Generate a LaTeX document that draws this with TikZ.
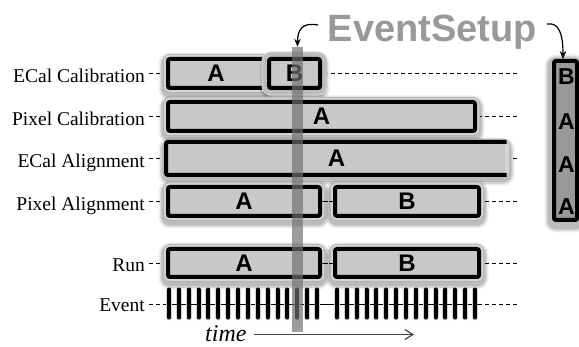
\documentclass[tikz,border=0pt]{standalone}
\usepackage{fontspec}
\setmainfont{Liberation Serif}
\newfontfamily\boxfont{Liberation Sans}
\usetikzlibrary{arrows.meta,calc}
\definecolor{boxfill}{RGB}{200,200,200}
\definecolor{halofill}{RGB}{212,212,212}
\definecolor{haloedge}{RGB}{175,175,175}
\definecolor{halobfill}{RGB}{188,188,188}
\definecolor{halobedge}{RGB}{215,215,215}
\definecolor{setupgray}{RGB}{153,153,153}
\definecolor{barcol}{RGB}{112,112,112}
\definecolor{rbfill}{RGB}{153,153,153}
\definecolor{timecol}{RGB}{68,68,68}
\begin{document}
\begin{tikzpicture}[x=1pt,y=-1pt,
  softshadow/.style={
    preaction={draw=black,draw opacity=0.07,line width=19pt,line join=round,transform canvas={yshift=-3pt}},
    preaction={draw=black,draw opacity=0.09,line width=16pt,line join=round,transform canvas={yshift=-3pt}},
    preaction={draw=black,draw opacity=0.12,line width=13pt,line join=round,transform canvas={yshift=-3pt}}},
  lab/.style={anchor=base east,inner sep=0pt,font=\fontsize{19.5}{20}\selectfont},
  tbox/.style={softshadow,
    preaction={draw=haloedge,line width=10pt,line join=round},
    preaction={draw=halofill,line width=8.5pt,line join=round},
    draw=black,line width=4pt,fill=boxfill,rounded corners=2pt,inner sep=0pt,
    font=\boxfont\bfseries\fontsize{24}{24}\selectfont},
  tboxb/.style={softshadow,
    preaction={draw=halobedge,line width=15pt,line join=round},
    preaction={draw=halobfill,line width=13pt,line join=round},
    draw=black,line width=4pt,fill=boxfill,rounded corners=2pt,inner sep=0pt,
    font=\boxfont\bfseries\fontsize{24}{24}\selectfont},
  dsh/.style={dash pattern=on 4pt off 3pt,line width=0.9pt},
  evgrp/.style={inner sep=0pt,minimum width=152pt,minimum height=30pt},
  tickln/.style={line width=4pt,line cap=round,preaction={draw=halofill,line width=6pt,line cap=round}},
  barst/.style={fill=barcol,fill opacity=0.68,inner sep=0pt,minimum width=11pt,minimum height=285pt},
  rbox/.style={softshadow,
    draw=black,line width=4pt,fill=rbfill,rounded corners=2pt,inner sep=0pt,minimum width=23pt,minimum height=159pt},
  rblet/.style={inner sep=0pt,font=\boxfont\bfseries\fontsize{23}{23}\selectfont},
  setupst/.style={anchor=base,inner sep=0pt,text=setupgray,font=\boxfont\bfseries\fontsize{38}{38}\selectfont},
  sarrow/.style={line width=1.2pt,-{Stealth[length=8pt,width=6.5pt]}},
  tarrow/.style={line width=1.2pt,draw=timecol,-{Straight Barb[length=8pt,width=10pt,line width=1.2pt]}}
]
\useasboundingbox (0,0) rectangle (579,347);
\fill[white] (0,0) rectangle (579,347);

% end points of the dashed rows
\coordinate (eEC) at (517,73.5);
\coordinate (ePC) at (517,116.5);
\coordinate (eEA) at (517,158.5);
\coordinate (ePA) at (517,201.5);
\coordinate (eRun) at (517,263);
\coordinate (eEv) at (517,304);

% labels
\node[lab] (lEC) at (145,83) {ECal Calibration};
\node[lab] (lPC) at (145,125.5) {Pixel Calibration};
\node[lab] (lEA) at (145,168) {ECal Alignment};
\node[lab] (lPA) at (145,210.5) {Pixel Alignment};
\node[lab] (lRun) at (145,272) {Run};
\node[lab] (lEv) at (145,312) {Event};

\draw[dsh] ($(lEC.east |- eEC)+(4,0)$) -- (eEC);
\draw[dsh] ($(lPC.east |- ePC)+(4,0)$) -- (ePC);
\draw[dsh] ($(lEA.east |- eEA)+(4,0)$) -- (eEA);
\draw[dsh] ($(lPA.east |- ePA)+(4,0)$) -- (ePA);
\draw[dsh] ($(lRun.east |- eRun)+(4,0)$) -- (eRun);
\draw[dsh] ($(lEv.east |- eEv)+(4,0)$) -- (eEv);

% boxes
\node[tbox,minimum width=96pt,minimum height=29pt] (ecA) at (216,73.5) {A};
\node[tboxb,minimum width=51pt,minimum height=29pt] (ecB) at (294.5,73.5) {B};
\node[tbox,minimum width=307pt,minimum height=29pt] (pcA) at (321.5,116.5) {A};
\node[tbox,draw=none,minimum width=337pt,minimum height=29pt] (eaA) at (336.5,158.5) {A};
\draw[line width=4pt,rounded corners=2pt] ([xshift=-0.5pt]eaA.north east) -- (eaA.north west) -- (eaA.south west) -- ([xshift=-0.5pt]eaA.south east);
\node[tbox,minimum width=152pt,minimum height=29pt] (paA) at (244,201.5) {A};
\node[tbox,minimum width=144pt,minimum height=29pt] (paB) at (407,201.5) {B};
\node[tbox,minimum width=152pt,minimum height=28pt] (runA) at (244,263) {A};
\node[tbox,minimum width=144pt,minimum height=28pt] (runB) at (407,263) {B};
% short dashes between the boxes of a row, over the halos
\draw[dsh] (paA.east) -- (paB.west);
\draw[dsh] (runA.east) -- (runB.west);

% events
\node[evgrp] (evA) at (243,304) {};
\node[evgrp,minimum width=144pt] (evB) at (407,304) {};
\foreach \i in {0,...,15} \draw[tickln] (169+9.867*\i,289.5) -- (169+9.867*\i,317.5);
\foreach \i in {0,...,14} \draw[tickln] (337+9.86*\i,289.5) -- (337+9.86*\i,317.5);
\draw[dsh] (evA.west) -- (evA.east) -- (evB.west) -- (evB.east);

% time bar
\node[barst] (bar) at (297.5,189.5) {};

% right box
\node[rbox] (rb) at (565.5,140.5) {};
\node[rblet] (rb1) at (566.5,77) {B};
\node[rblet] (rb2) at (566.5,121.5) {A};
\node[rblet] (rb3) at (566.5,164.5) {A};
\node[rblet] (rb4) at (566.5,206.5) {A};

% EventSetup
\node[setupst] (setup) at (432.5,41.7) {EventSetup};
\coordinate (s1) at (318,25);
\coordinate (s2) at (547,24);
\draw[sarrow] (s1) .. controls (302,22) and (297.5,30) .. (bar.north);
\draw[sarrow] (s2) .. controls (559,22) and (563,34) .. ([xshift=-2.5pt]rb.north);

% time
\node[anchor=base west,inner sep=0pt,font=\itshape\fontsize{24}{24}\selectfont] (time) at (205,342) {time};
\coordinate (tEnd) at (414,334.5);
\draw[tarrow] ($(time.east |- tEnd)+(7,0)$) -- (tEnd);
\end{tikzpicture}
\end{document}
